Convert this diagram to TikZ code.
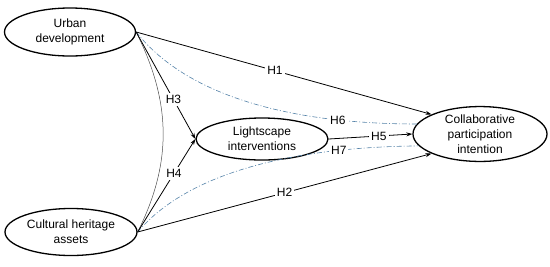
\documentclass[tikz,border=0pt]{standalone}
\usepackage{fontspec}
\setmainfont{Liberation Sans}
\usetikzlibrary{shapes.geometric,arrows.meta}
\definecolor{dashblue}{RGB}{84,130,168}
\begin{document}
\begin{tikzpicture}[x=1pt, y=-1pt, font=\fontsize{12}{15}\selectfont,
  construct/.style={draw, ellipse, line width=1.3pt, align=center, inner sep=0pt},
  hyp/.style={-{Stealth[length=6pt,width=4pt]}, line width=0.8pt},
  mediated/.style={dashblue, line width=0.6pt, dash pattern=on 5pt off 2pt on 1pt off 2pt},
  hlabel/.style={fill=white, inner sep=2pt}]
\useasboundingbox (0,0) rectangle (550,266);
\node[construct, minimum width=131pt, minimum height=48pt] (urban) at (70,32) {Urban\\development};
\node[construct, minimum width=132pt, minimum height=47pt] (heritage) at (71,232) {Cultural heritage\\assets};
\node[construct, minimum width=132pt, minimum height=42pt] (light) at (262,139) {Lightscape\\interventions};
\node[construct, minimum width=134pt, minimum height=52pt] (collab) at (480,134) {Collaborative\\participation\\intention};
\draw[line width=0.5pt, black!70] (urban.east) .. controls +(35,70) and +(35,-70) .. (heritage.east);
\draw[mediated] (urban.east) .. controls (190,100) and (300,124) .. node[hlabel, pos=0.77, text=black] {H6} (collab.171);
\draw[mediated] (heritage.east) .. controls (190,170) and (300,147) .. node[hlabel, pos=0.77, text=black] {H7} (collab.191);
\draw[hyp] (urban.east) -- node[hlabel, pos=0.47] {H1} (collab.158);
\draw[hyp] (heritage.east) -- node[hlabel, pos=0.5] {H2} (collab.202);
\draw[hyp] (urban.east) -- node[hlabel, pos=0.63] {H3} (light.west);
\draw[hyp] (heritage.east) -- node[hlabel, pos=0.63] {H4} (light.west);
\draw[hyp] (light.east) -- node[hlabel, pos=0.6] {H5} (collab.west);
\end{tikzpicture}
\end{document}
